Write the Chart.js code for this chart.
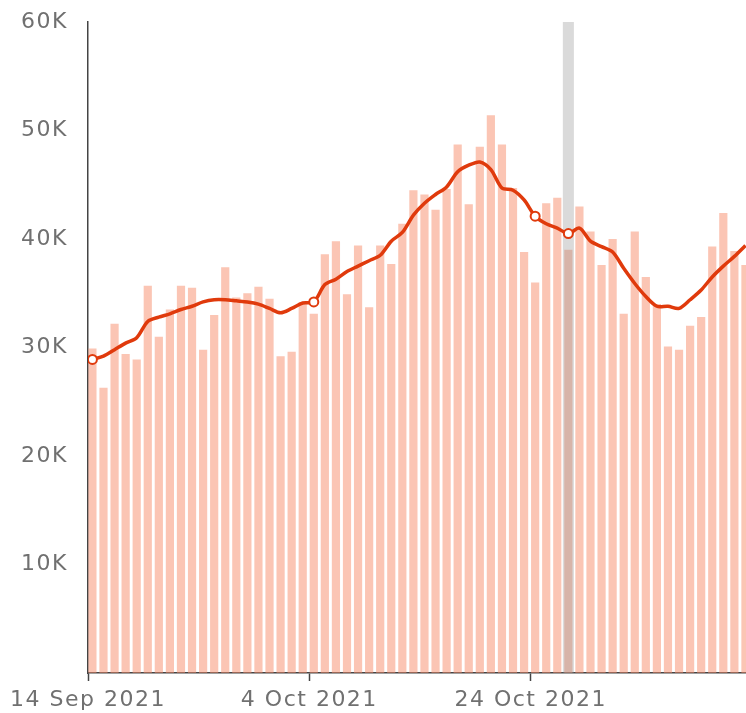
<!DOCTYPE html>
<html>
<head>
<meta charset="utf-8">
<script src="https://cdn.jsdelivr.net/npm/chart.js@4.4.1/dist/chart.umd.min.js"></script>
<style>
  html, body { margin: 0; padding: 0; background: #fff; overflow: hidden; }
  #wrap { width: 746px; height: 713px; position: relative; }
</style>
</head>
<body>
<div id="wrap"><canvas id="casesChart"></canvas></div>
<script>
// daily values from 14 Sep 2021
const days = [
  "14 Sep", "15 Sep", "16 Sep", "17 Sep", "18 Sep", "19 Sep", "20 Sep", "21 Sep", "22 Sep", "23 Sep",
  "24 Sep", "25 Sep", "26 Sep", "27 Sep", "28 Sep", "29 Sep", "30 Sep", "1 Oct", "2 Oct", "3 Oct",
  "4 Oct", "5 Oct", "6 Oct", "7 Oct", "8 Oct", "9 Oct", "10 Oct", "11 Oct", "12 Oct", "13 Oct",
  "14 Oct", "15 Oct", "16 Oct", "17 Oct", "18 Oct", "19 Oct", "20 Oct", "21 Oct", "22 Oct", "23 Oct",
  "24 Oct", "25 Oct", "26 Oct", "27 Oct", "28 Oct", "29 Oct", "30 Oct", "31 Oct", "1 Nov", "2 Nov",
  "3 Nov", "4 Nov", "5 Nov", "6 Nov", "7 Nov", "8 Nov", "9 Nov", "10 Nov", "11 Nov", "12 Nov"
];

const dailyCases = [
  29900, 26300, 32200, 29400, 28900, 35700, 31000, 33500, 35700, 35500,
  29800, 33000, 37400, 34600, 35000, 35600, 34500, 29200, 29600, 34200,
  33100, 38600, 39800, 34900, 39400, 33700, 39400, 37700, 41400, 44500,
  44100, 42700, 44600, 48700, 43200, 48500, 51400, 48700, 44700, 38800,
  36000, 43300, 43800, 39000, 43000, 40700, 37600, 40000, 33100, 40700,
  36500, 34000, 30100, 29800, 32000, 32800, 39300, 42400, 38900, 37600
];

const rollingAverage = [
  28900, 29200, 29800, 30400, 30900, 32400, 32800, 33100, 33500, 33800,
  34200, 34400, 34400, 34300, 34200, 34000, 33600, 33200, 33600, 34100,
  34200, 35800, 36300, 37000, 37500, 38000, 38500, 39800, 40600, 42200,
  43300, 44100, 44800, 46200, 46800, 47100, 46400, 44700, 44500, 43600,
  42100, 41400, 41000, 40500, 41000, 39800, 39300, 38800, 37300, 35900,
  34700, 33800, 33800, 33600, 34400, 35300, 36500, 37500, 38400, 39400
];

const tickDays = [0, 20, 40];
const tickLabels = ["14 Sep 2021", "4 Oct 2021", "24 Oct 2021"];
const markedDays = [0, 20, 40, 43];
const hoverDay = 43;

const barColor = "rgba(248, 140, 105, 0.5)";
const lineColor = "#e03a0c";
const textColor = "#707070";
const axisColor = "#444";
const barCentre = 0.4; // bars sit just right of the day tick

function toPoints(values) {
  return values.map((v, i) => ({ x: i + barCentre, y: v }));
}

// grey hover band, drawn over the bars but under the line
const hoverBand = {
  id: "hoverBand",
  afterDatasetDraw(chart, args) {
    if (args.index !== 0) return;
    const { ctx, chartArea, scales } = chart;
    const left = scales.x.getPixelForValue(hoverDay - 0.1);
    const right = scales.x.getPixelForValue(hoverDay + 0.9);
    ctx.save();
    ctx.fillStyle = "rgba(150, 150, 150, 0.35)";
    ctx.fillRect(left, chartArea.top, right - left, chartArea.bottom - chartArea.top);
    ctx.restore();
  }
};

const wideText = {
  id: "wideText",
  beforeUpdate(chart) { chart.ctx.letterSpacing = "1.5px"; },
  beforeDraw(chart) { chart.ctx.letterSpacing = "1.5px"; }
};

new Chart(document.getElementById("casesChart"), {
  type: "bar",
  data: {
    datasets: [
      {
        type: "bar",
        label: "Daily cases",
        data: toPoints(dailyCases),
        backgroundColor: barColor,
        borderWidth: 0,
        categoryPercentage: 1,
        barPercentage: 0.74,
        order: 1
      },
      {
        type: "line",
        label: "7-day average",
        data: toPoints(rollingAverage),
        borderColor: lineColor,
        borderWidth: 3.5,
        tension: 0.3,
        pointRadius: (c) => (markedDays.includes(c.dataIndex) ? 4.5 : 0),
        pointBackgroundColor: "#fff",
        pointBorderColor: lineColor,
        pointBorderWidth: 2,
        order: 0
      }
    ]
  },
  options: {
    responsive: true,
    maintainAspectRatio: false,
    animation: false,
    layout: { autoPadding: false, padding: { top: 22, right: 0, left: 0, bottom: 0 } },
    plugins: {
      legend: { display: false },
      tooltip: { enabled: false }
    },
    scales: {
      x: {
        type: "linear",
        offset: false,
        min: 0,
        max: 59.45,
        afterBuildTicks: (scale) => {
          scale.ticks = tickDays.map((d) => ({ value: d }));
        },
        afterFit: (scale) => {
          scale.height = 40;
          scale.paddingLeft = 0;
          scale.paddingRight = 0;
        },
        ticks: {
          autoSkip: false,
          maxRotation: 0,
          padding: 6,
          color: textColor,
          font: { family: "DejaVu Sans", size: 22 },
          callback: (value) => tickLabels[tickDays.indexOf(value)]
        },
        grid: {
          offset: false,
          drawOnChartArea: false,
          drawTicks: true,
          tickLength: 8,
          tickColor: axisColor,
          tickWidth: 1.5
        },
        border: { display: true, color: axisColor, width: 1.5 }
      },
      y: {
        min: 0,
        max: 60000,
        afterFit: (scale) => {
          scale.width = 88;
          scale.paddingTop = 0;
          scale.paddingBottom = 0;
        },
        ticks: {
          stepSize: 10000,
          padding: 20,
          color: textColor,
          font: { family: "DejaVu Sans", size: 22 },
          callback: (value) => (value === 0 ? "" : value / 1000 + "K")
        },
        grid: { display: false, drawTicks: false },
        border: { display: true, color: axisColor, width: 1.5 }
      }
    }
  },
  plugins: [hoverBand, wideText]
});
</script>
</body>
</html>
